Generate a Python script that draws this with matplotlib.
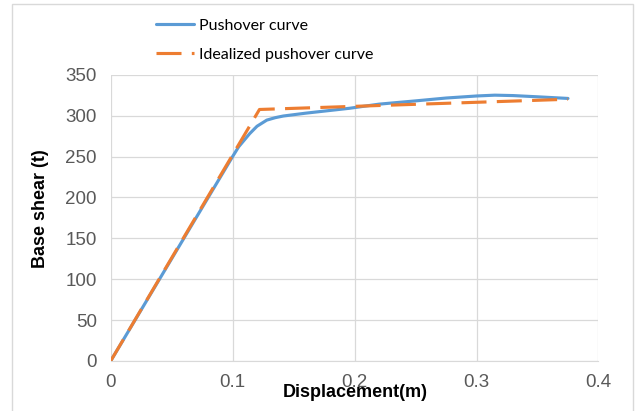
import matplotlib.pyplot as plt

# Curva pushover (deslocamento em m, cortante na base em t)
desloc_push = [0.0, 0.05, 0.10, 0.105, 0.114, 0.12, 0.128, 0.135, 0.1415, 0.16,
               0.196, 0.22, 0.25, 0.275, 0.30, 0.315, 0.33, 0.35, 0.375]
corte_push = [0.0, 125, 250, 262, 278, 287, 294.5, 297.5, 299.5, 303,
              309, 314, 318, 321.5, 324, 325, 324.5, 323, 321]

# Curva pushover idealizada (bilinear)
desloc_ideal = [0.0, 0.122, 0.375]
corte_ideal = [0.0, 307.5, 320]

xticks = [0, 0.1, 0.2, 0.3, 0.4]
xtick_labels = ['0', '0.1', '0.2', '0.3', '0.4']
yticks = [0, 50, 100, 150, 200, 250, 300, 350]

azul = '#5B9BD5'
laranja = '#ED7D31'
cinza = '#D9D9D9'

fig = plt.figure(figsize=(6.35, 4.11), dpi=100)
fig.patches.append(plt.Rectangle((0.019, -0.02), 0.978, 1.01, transform=fig.transFigure,
                                 fill=False, edgecolor='#D9D9D9', linewidth=1))
ax = fig.add_axes([0.1743, 0.1217, 0.7682, 0.6965])

ax.plot(desloc_push, corte_push, color=azul, linewidth=2.25, label='Pushover curve',
        solid_capstyle='round', solid_joinstyle='round', zorder=3)
ax.plot(desloc_ideal, corte_ideal, color=laranja, linewidth=2.25, dashes=(8, 3.3),
        label='Idealized pushover curve', zorder=4)

ax.set_xlim(0, 0.4)
ax.set_ylim(0, 350)
ax.set_xticks(xticks)
ax.set_xticklabels(xtick_labels)
ax.set_yticks(yticks)
ax.grid(True, color=cinza, linewidth=0.9)
ax.set_axisbelow(True)
for lado in ['top', 'right', 'left']:
    ax.spines[lado].set_visible(False)
ax.spines['bottom'].set_color(cinza)
ax.tick_params(length=0, labelsize=13.5, labelcolor='#595959')
ax.tick_params(axis='y', pad=10)
ax.tick_params(axis='x', pad=9.5)

for rotulo in ax.get_xticklabels() + ax.get_yticklabels():
    rotulo.set_fontfamily('Liberation Sans')

fig.text(0.559, 0.034, 'Displacement(m)', ha='center', va='baseline', fontsize=13,
         fontweight='bold', family='Liberation Sans')
fig.text(0.063, 0.4915, 'Base shear (t)', ha='center', va='center', rotation=90,
         fontsize=13, fontweight='bold', family='Liberation Sans')

fig.legend(loc='upper left', bbox_to_anchor=(0.2457, 0.955), frameon=False,
           prop={'family': 'Lato', 'size': 11.5}, handlelength=2.4, handletextpad=0.32,
           labelspacing=0.95, borderpad=0, borderaxespad=0)

fig.savefig('out.png', dpi=100)
